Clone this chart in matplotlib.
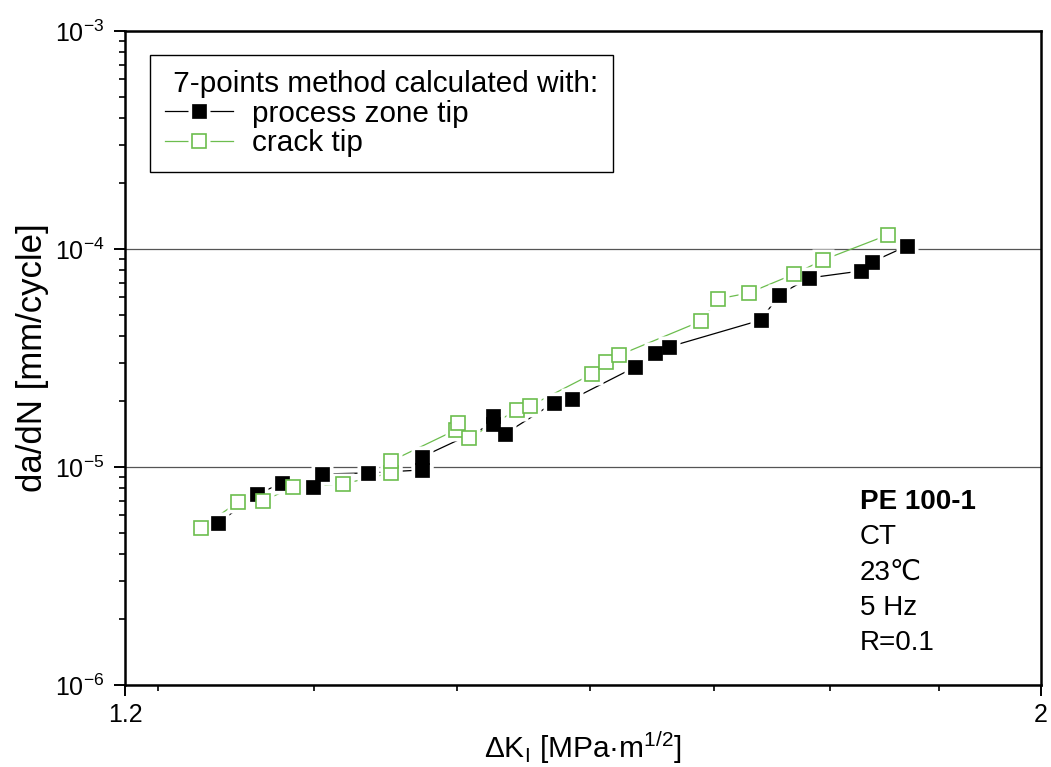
import matplotlib
matplotlib.use("Agg")
import matplotlib.pyplot as plt
from matplotlib.ticker import FixedLocator, FixedFormatter, NullFormatter, LogLocator
from matplotlib.legend_handler import HandlerTuple

plt.rcParams['font.family'] = ['Liberation Sans', 'DejaVu Sans']
plt.rcParams['mathtext.default'] = 'regular'
plt.rcParams['axes.unicode_minus'] = False

# process zone tip (filled squares)
pz_dk = [1.264, 1.292, 1.310, 1.333, 1.339, 1.374, 1.416, 1.416, 1.473, 1.473,
         1.483, 1.524, 1.540, 1.595, 1.613, 1.625, 1.711, 1.728, 1.757, 1.809,
         1.820, 1.856]
pz_rate = [5.53e-6, 7.52e-6, 8.44e-6, 8.09e-6, 9.29e-6, 9.39e-6, 9.69e-6, 1.111e-5,
           1.575e-5, 1.714e-5, 1.417e-5, 1.966e-5, 2.05e-5, 2.875e-5, 3.333e-5,
           3.552e-5, 4.724e-5, 6.15e-5, 7.36e-5, 7.93e-5, 8.72e-5, 1.032e-4]

# crack tip (open squares)
ct_dk = [1.252, 1.278, 1.296, 1.318, 1.355, 1.392, 1.392, 1.443, 1.445, 1.454,
         1.493, 1.504, 1.557, 1.569, 1.581, 1.655, 1.670, 1.699, 1.743, 1.771,
         1.836]
ct_rate = [5.25e-6, 6.91e-6, 6.98e-6, 8.09e-6, 8.36e-6, 9.39e-6, 1.065e-5, 1.478e-5,
           1.591e-5, 1.358e-5, 1.826e-5, 1.905e-5, 2.67e-5, 3.032e-5, 3.264e-5,
           4.675e-5, 5.897e-5, 6.28e-5, 7.68e-5, 8.90e-5, 1.159e-4]

x_ticks = [1.2, 2]
x_ticklabels = ['1.2', '2']
x_minor = [k / 9 for k in range(11, 18)]

info_lines = ['PE 100-1', 'CT', '23℃', '5 Hz', 'R=0.1']

green = '#6cbd4e'

fig = plt.figure(figsize=(10.51, 7.67), dpi=100)
ax = fig.add_axes([0.1189, 0.1069, 0.8716, 0.8527])
ax.set_xscale('log')
ax.set_yscale('log')

handles = []
for xs, ys, col, filled in [(pz_dk, pz_rate, 'black', True), (ct_dk, ct_rate, green, False)]:
    ln, = ax.plot(xs, ys, color=col, lw=0.9, zorder=2)
    halo, = ax.plot(xs, ys, ls='none', marker='s', ms=16, mfc='white', mec='none', zorder=3)
    if filled:
        mk, = ax.plot(xs, ys, ls='none', marker='s', ms=10.2, mfc=col, mec=col, mew=0.5, zorder=4)
    else:
        mk, = ax.plot(xs, ys, ls='none', marker='s', ms=9.8, mfc='white', mec=col, mew=1.2, zorder=4)
    handles.append((ln, halo, mk))

ax.set_xlim(1.2, 2)
ax.set_ylim(1e-6, 1e-3)
ax.xaxis.set_major_locator(FixedLocator(x_ticks))
ax.xaxis.set_major_formatter(FixedFormatter(x_ticklabels))
ax.xaxis.set_minor_locator(FixedLocator(x_minor))
ax.xaxis.set_minor_formatter(NullFormatter())
ax.yaxis.set_major_locator(LogLocator(base=10))
ax.yaxis.set_minor_locator(LogLocator(base=10, subs=range(2, 10)))
ax.yaxis.set_minor_formatter(NullFormatter())

ax.tick_params(which='both', direction='out', top=False, right=False, labelsize=18)
ax.tick_params(which='major', length=8, width=1.4)
ax.tick_params(which='minor', length=4.5, width=1.2)
ax.tick_params(axis='x', pad=5)
ax.tick_params(axis='y', pad=7)
for sp in ax.spines.values():
    sp.set_linewidth(1.8)

ax.yaxis.grid(True, which='major', color='#555555', lw=0.9)

ax.set_xlabel('ΔK$_I$ [MPa·m$^{1/2}$]', fontsize=21.5, labelpad=2)
ax.set_ylabel('da/dN [mm/cycle]', fontsize=25, labelpad=4)

leg = ax.legend(handles, ['process zone tip', 'crack tip'],
                handler_map={tuple: HandlerTuple(ndivide=1, pad=0)},
                title=' 7-points method calculated with:', title_fontsize=21.4,
                fontsize=21.4, loc='upper left', bbox_to_anchor=(0.027, 0.963),
                borderaxespad=0, fancybox=False, framealpha=1, edgecolor='black',
                handlelength=2.3, handletextpad=0.65, labelspacing=0.05,
                borderpad=0.5, alignment='left')
leg.get_frame().set_linewidth(1.0)

ys_info = [0.280, 0.226, 0.171, 0.118, 0.064]
for i, (txt, yy) in enumerate(zip(info_lines, ys_info)):
    ax.text(0.802, yy, txt, transform=ax.transAxes, fontsize=20, va='center', ha='left',
            fontweight='bold' if i == 0 else 'normal')

fig.savefig('out.png', dpi=100)
